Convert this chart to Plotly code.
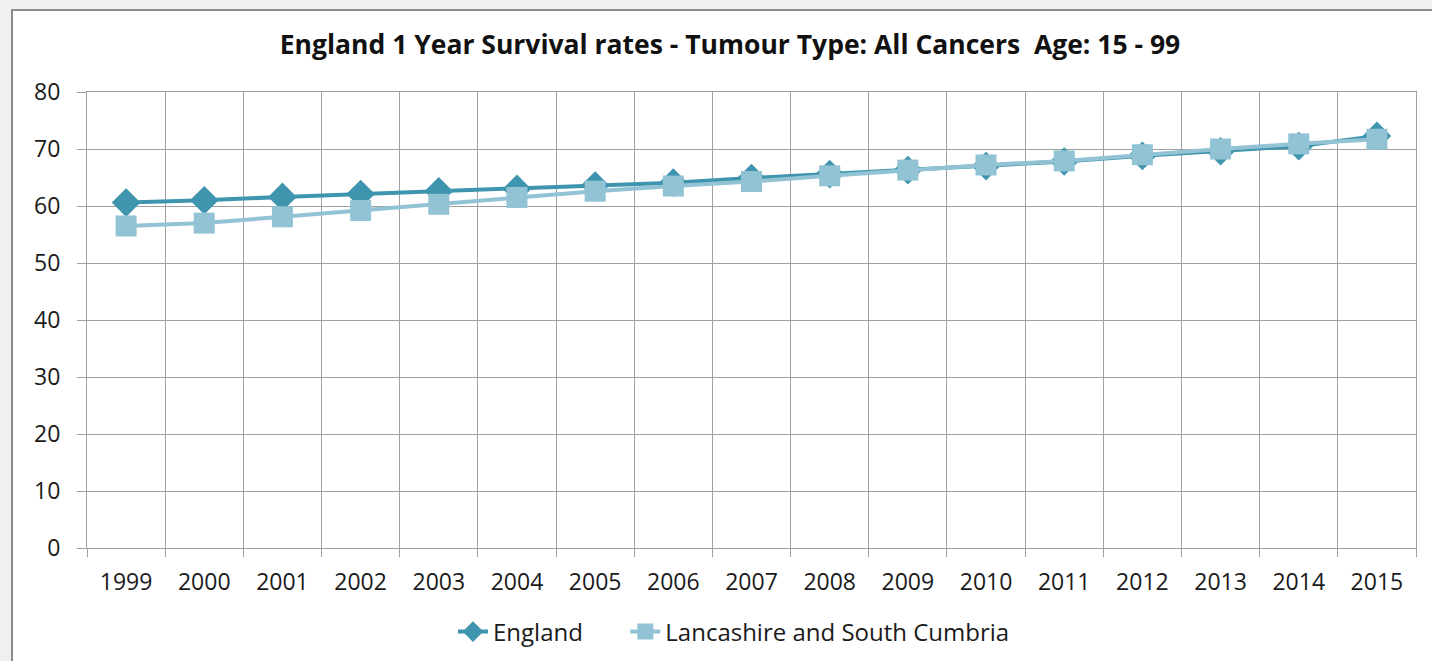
import plotly.graph_objects as go

years = ["1999", "2000", "2001", "2002", "2003", "2004", "2005", "2006", "2007",
         "2008", "2009", "2010", "2011", "2012", "2013", "2014", "2015"]
england = [60.6, 61.0, 61.6, 62.1, 62.6, 63.0, 63.6, 64.1, 64.9,
           65.6, 66.3, 67.0, 67.8, 68.8, 69.6, 70.5, 72.3]
lancashire = [56.5, 57.0, 58.1, 59.2, 60.3, 61.5, 62.6, 63.5, 64.3,
              65.3, 66.3, 67.2, 67.9, 69.0, 70.0, 70.9, 71.7]
series_names = ["England", "Lancashire and South Cumbria"]
title_text = "England 1 Year Survival rates - Tumour Type: All Cancers&nbsp;&nbsp;Age: 15 - 99"

FONT = "Open Sans"
C_ENG = "#3F95AE"
C_LAN = "#92C3D5"

W, H = 1432, 661
L, R, T, B = 87, 1416, 92, 548
pw, ph = R - L, B - T
PAD = "\u00a0" * 6

fig = go.Figure()
fig.add_trace(go.Scatter(
    x=years, y=england, name=series_names[0] + PAD, mode="lines+markers",
    line=dict(color=C_ENG, width=4),
    marker=dict(symbol="diamond", size=22, color=C_ENG),
))
fig.add_trace(go.Scatter(
    x=years, y=lancashire, name=series_names[1], mode="lines+markers",
    line=dict(color=C_LAN, width=4),
    marker=dict(symbol="square", size=21, color=C_LAN),
))

fig.update_layout(
    width=W, height=H,
    paper_bgcolor="#F0F0F0",
    plot_bgcolor="white",
    margin=dict(l=L, r=W - R, t=T, b=H - B, autoexpand=False),
    font=dict(family=FONT, size=23, color="#1a1a1a"),
    title=dict(text=title_text, x=730 / W, xanchor="center", y=1 - 45 / H, yanchor="middle",
               font=dict(family=FONT, size=26.5, color="#111111", weight="bold")),
    showlegend=True,
    legend=dict(orientation="h", x=(734 - L) / pw, xanchor="center", y=-(632 - B) / ph, yanchor="middle",
                font=dict(size=24), bgcolor="rgba(0,0,0,0)"),
    shapes=[dict(type="rect", xref="paper", yref="paper",
                 x0=(12 - L) / pw, x1=(W + 20 - L) / pw, y0=-(H + 20 - B) / ph, y1=(B - 10) / ph,
                 fillcolor="white", line=dict(color="#8C8C8C", width=2), layer="below")],
)
fig.update_xaxes(
    type="category", tickson="boundaries", range=[-0.5, 16.5],
    showgrid=True, gridcolor="#A0A0A0", gridwidth=1,
    ticks="outside", ticklen=8, tickcolor="#A0A0A0",
    showline=True, linecolor="#A0A0A0", mirror=True,
    tickfont=dict(size=23), ticklabelstandoff=13,
)
fig.update_yaxes(
    range=[0, 80], dtick=10,
    showgrid=True, gridcolor="#A0A0A0", gridwidth=1,
    ticks="outside", ticklen=9, tickcolor="#A0A0A0",
    showline=True, linecolor="#A0A0A0", mirror=True, zeroline=False,
    tickfont=dict(size=23), ticklabelstandoff=12,
)

fig.write_html("out.html", config={"displayModeBar": False},
               post_script="document.body.style.margin='0';document.body.style.padding='0';")
